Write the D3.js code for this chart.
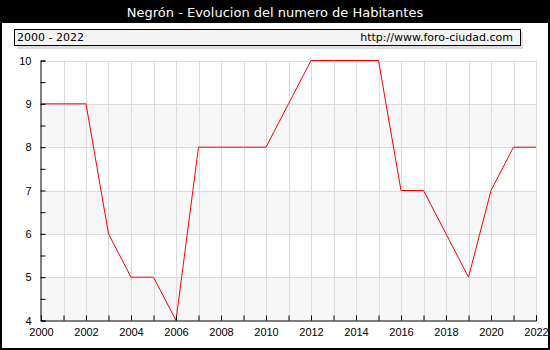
<!DOCTYPE html>
<html><head><meta charset="utf-8">
<script src="https://cdn.jsdelivr.net/npm/d3@7"></script>
<style>body{margin:0;background:#fff}svg{display:block}</style>
</head><body>
<script>
const years = [2000,2001,2002,2003,2004,2005,2006,2007,2008,2009,2010,2011,2012,2013,2014,2015,2016,2017,2018,2019,2020,2021,2022];
const habitantes = [9,9,9,6,5,5,4,8,8,8,8,9,10,10,10,10,7,7,6,5,7,8,8];
const yTicks = [4,5,6,7,8,9,10];
const xLabels = [2000,2002,2004,2006,2008,2010,2012,2014,2016,2018,2020,2022];
const title = "Negrón - Evolucion del numero de Habitantes";
const rangeText = "2000 - 2022";
const urlText = "http://www.foro-ciudad.com";

const W=550,H=350;
const svg=d3.select("body").append("svg").attr("width",W).attr("height",H)
  .style("font-family","'DejaVu Sans', Verdana, sans-serif");
svg.append("rect").attr("x",0).attr("y",0).attr("width",W).attr("height",H).attr("fill","#fff");
// title bar
svg.append("rect").attr("x",0).attr("y",0).attr("width",W).attr("height",23).attr("fill","#000");
svg.append("text").attr("x",W/2).attr("y",17).attr("text-anchor","middle").attr("fill","#fff")
  .attr("font-size",13).text(title);
// info box
svg.append("rect").attr("x",17).attr("y",32).attr("width",506).attr("height",17).attr("fill","#ddd");
svg.append("rect").attr("x",14.5).attr("y",29.5).attr("width",506).attr("height",16).attr("fill","#f4f4f4").attr("stroke","#000");
svg.append("text").attr("x",17).attr("y",41).attr("font-size",11).text(rangeText);
svg.append("text").attr("x",513).attr("y",41).attr("font-size",11).attr("text-anchor","end").text(urlText);

const x=d3.scaleLinear().domain([2000,2022]).range([41,536]);
const y=d3.scaleLinear().domain([4,10]).range([320.5,60.5]);
const g=svg.append("g");
// bands
[[8,9],[6,7],[4,5]].forEach(b=>{
  g.append("rect").attr("x",x(2000)).attr("width",x(2022)-x(2000))
   .attr("y",y(b[1])).attr("height",y(b[0])-y(b[1])).attr("fill","#f7f7f7");
});
// grid
g.selectAll(".vg").data(years.slice(1)).enter().append("line")
  .attr("x1",d=>Math.round(x(d))+0.5).attr("x2",d=>Math.round(x(d))+0.5)
  .attr("y1",y(10)).attr("y2",y(4)).attr("stroke","#dcdcdc");
g.selectAll(".hg").data(yTicks.slice(1)).enter().append("line")
  .attr("x1",x(2000)).attr("x2",x(2022))
  .attr("y1",d=>Math.round(y(d))+0.5).attr("y2",d=>Math.round(y(d))+0.5).attr("stroke","#dcdcdc");
// line
g.append("path").datum(years.map((d,i)=>[d,habitantes[i]]))
  .attr("fill","none").attr("stroke","#ff0000").attr("stroke-width",1)
  .attr("d",d3.line().x(d=>x(d[0])).y(d=>y(d[1])));
// axes
const xAxis=d3.axisBottom(x).tickValues(years).tickSize(-5).tickFormat(d=>xLabels.includes(d)?d:"");
const ax=svg.append("g").attr("transform","translate(0,320.5)").call(xAxis);
ax.select(".domain").attr("stroke","#000");
ax.selectAll("text").attr("font-size",11).attr("fill","#000").attr("dy","1.15em");
const yMinor=d3.range(4,10.01,0.5);
const yAxis=d3.axisLeft(y).tickValues(yMinor).tickSize(-5).tickFormat(d=>Number.isInteger(d)?d:"");
const ay=svg.append("g").attr("transform","translate(40.5,0)").call(yAxis);
ay.select(".domain").attr("stroke","#000");
ay.selectAll("text").attr("font-size",11).attr("fill","#000").attr("x",-9);
// outer frame
svg.append("rect").attr("x",1).attr("y",1).attr("width",W-2).attr("height",H-2)
  .attr("fill","none").attr("stroke","#000").attr("stroke-width",2);
</script>
</body></html>
